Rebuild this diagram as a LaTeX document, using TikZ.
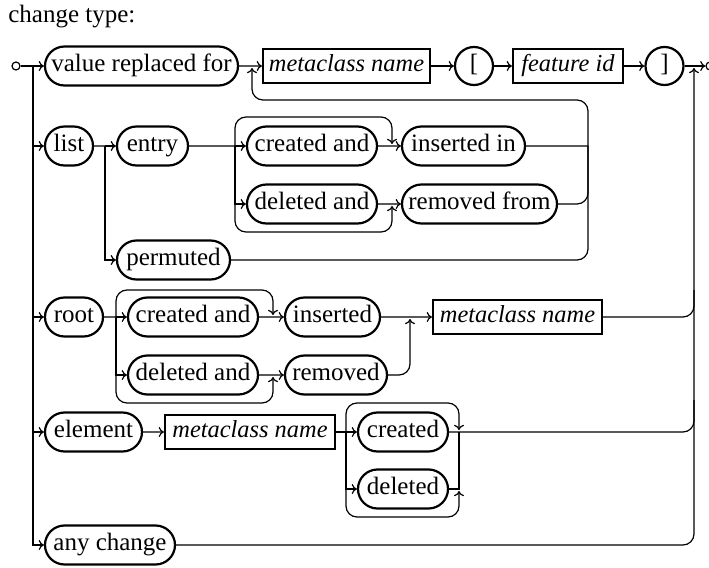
\documentclass[tikz,border=0pt]{standalone}
\usepackage{fontspec}
\setmainfont{Liberation Serif}
\usetikzlibrary{shapes.misc,arrows.meta}
\begin{document}
\begin{tikzpicture}[x=0.5pt,y=-0.5pt,
  every node/.style={font=\fontsize{12.5}{14}\selectfont, text height=8.6pt, text depth=2.7pt, inner sep=0pt},
  term/.style={draw, line width=1.1pt, rounded rectangle, minimum height=19.5pt},
  nonterm/.style={draw, line width=1.1pt, rectangle, minimum height=17pt, font=\fontsize{12.2}{14}\selectfont\itshape},
  lit/.style={draw, line width=1.1pt, circle, minimum size=19pt},
  endpt/.style={draw, line width=0.6pt, circle, minimum size=4pt, text height=0pt, text depth=0pt},
  conn/.style={line width=0.6pt, -{To[length=2.6pt,width=5pt]}},
  wire/.style={line width=0.6pt},
  rc/.style={rounded corners=5.5pt}
]
\useasboundingbox (0,0) rectangle (709,568);

\node[anchor=base west] (title) at (8,22) {change type:};

% main rail
\node[endpt] (start) at (16,66) {};
\node[endpt] (stop) at (710,66) {};
\coordinate (fork) at (33,66);
\coordinate (join) at (694,68);

% value replaced for  metaclass name [ feature id ]
\node[term, minimum width=96.5pt] (vrf) at (141.5,66) {value replaced for};
\node[nonterm, minimum width=83.5pt] (mc1) at (346.5,66) {metaclass name};
\node[lit] (lb) at (474,66) {[};
\node[nonterm, minimum width=55pt] (fid) at (568,66) {feature id};
\node[lit] (rb) at (664.5,66) {]};
\coordinate (back) at (252,68);

% list branch
\node[term, minimum width=24pt] (list) at (69,146) {list};
\node[term, minimum width=35.5pt] (entry) at (152.5,146) {entry};
\node[term, minimum width=65pt] (lcre) at (312,146) {created and};
\node[term, minimum width=61.5pt] (lins) at (463.5,146) {inserted in};
\node[term, minimum width=65pt] (ldel) at (312,204) {deleted and};
\node[term, minimum width=77.5pt] (lrem) at (479.5,204) {removed from};
\node[term, minimum width=56.5pt] (perm) at (173.5,260) {permuted};
\coordinate (lsplit) at (105,146);
\coordinate (esplit) at (235,146);
\coordinate (esplitb) at (235,204);
\coordinate (lout) at (588,146);

% root branch
\node[term, minimum width=29pt] (root) at (74,317) {root};
\node[term, minimum width=65pt] (rcre) at (193,317) {created and};
\node[term, minimum width=65pt] (rdel) at (193,375) {deleted and};
\node[term, minimum width=47.5pt] (rins) at (332.5,317) {inserted};
\node[term, minimum width=51pt] (rrem) at (336,375) {removed};
\node[nonterm, minimum width=84.5pt] (mc2) at (517.5,317) {metaclass name};
\coordinate (rsplit) at (116,317);
\coordinate (rsplitb) at (116,375);
\coordinate (rjoin) at (410,319);

% element branch
\node[term, minimum width=48.5pt] (elem) at (93.5,432) {element};
\node[nonterm, minimum width=85pt] (mc3) at (250,432) {metaclass name};
\node[term, minimum width=45pt] (ecre) at (403,432) {created};
\node[term, minimum width=45pt] (edel) at (403,489) {deleted};
\coordinate (xsplit) at (346,432);
\coordinate (xsplitb) at (346,489);
\coordinate (xjoin) at (459,432);

% any change
\node[term, minimum width=65pt] (any) at (110,545) {any change};

% ---- connectors: main rail
\draw[wire] (start) -- (fork);
\draw[conn] (fork) -- (vrf);
\draw[conn] (vrf) -- (mc1);
\draw[conn] (mc1) -- (lb);
\draw[conn] (lb) -- (fid);
\draw[conn] (fid) -- (rb);
\draw[conn] (rb) -- (stop);
\draw[conn] (fork) |- (any);
\draw[conn] (fork |- list) -- (list);
\draw[conn] (fork |- root) -- (root);
\draw[conn] (fork |- elem) -- (elem);
\draw[conn, rc] (any) -- (any -| join) -- (join);

% ---- list
\draw[wire] (list) -- (lsplit);
\draw[conn] (lsplit) -- (entry);
\draw[conn] (lsplit) |- (perm);
\draw[wire] (entry) -- (esplit);
\draw[conn] (esplit) -- (lcre);
\draw[conn] (esplit) |- (ldel);
\draw[conn, rc] (esplit) -- (235,117) -- (392,117) -- (392,144);
\draw[conn] (lcre) -- (lins);
\draw[conn, rc] (esplitb) -- (235,232) -- (392,232) -- (392,206);
\draw[conn] (ldel) -- (lrem);
\draw[wire] (lins) -- (lout);
\draw[wire, rc] (lrem) -| (lout);
\draw[conn, rc] (perm) -- (588,260) -- (588,100) -- (252,100) -- (back);

% ---- root
\draw[wire] (root) -- (rsplit);
\draw[conn] (rsplit) -- (rcre);
\draw[conn] (rsplit) |- (rdel);
\draw[conn, rc] (rsplit) -- (116,290) -- (273,290) -- (273,315);
\draw[conn] (rcre) -- (rins);
\draw[conn, rc] (rsplitb) -- (116,403) -- (273,403) -- (273,377);
\draw[conn] (rdel) -- (rrem);
\draw[conn] (rins) -- (mc2);
\draw[conn, rc] (rrem) -| (rjoin);
\draw[wire, rc] (mc2) -- (694,317) -- (694,290);

% ---- element
\draw[conn] (elem) -- (mc3);
\draw[wire] (mc3) -- (xsplit);
\draw[conn] (xsplit) -- (ecre);
\draw[conn] (xsplit) |- (edel);
\draw[conn, rc] (xsplit) -- (346,403) -- (459,403) -- (459,430);
\draw[conn, rc] (xsplitb) -- (346,517) -- (459,517) -- (459,491);
\draw[wire] (edel) -| (xjoin);
\draw[wire, rc] (ecre) -- (694,432) -- (694,400);
\end{tikzpicture}
\end{document}
